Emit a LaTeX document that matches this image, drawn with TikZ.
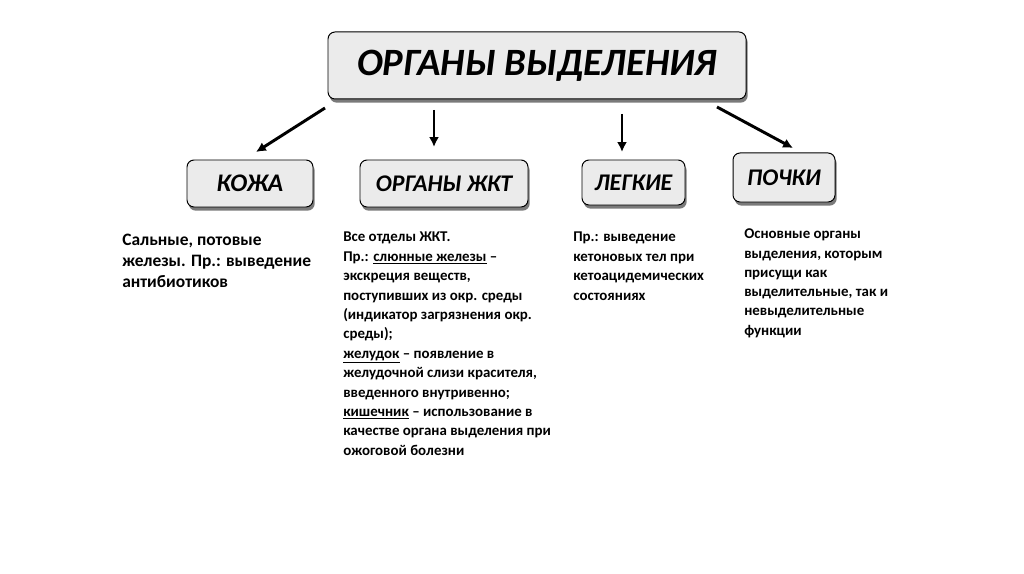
\documentclass[tikz,border=0pt]{standalone}
\usepackage{fontspec}
\setmainfont{Carlito}
\usepackage{tikz}
\usetikzlibrary{arrows.meta,shadows}
\pgfdeclarelayer{edgelayer}
\pgfdeclarelayer{nodelayer}
\pgfsetlayers{edgelayer,nodelayer,main}
\tikzstyle{edge}=[draw=black, line width=2.1pt, -{Latex[length=7pt,width=7pt]}]
\tikzstyle{organbox}=[rounded corners=5pt, fill=gray!16, draw=black, line width=0.7pt, inner sep=0pt, font=\bfseries\itshape, drop shadow={shadow xshift=1.2pt, shadow yshift=-2.6pt, fill=black!80, opacity=0.65}]
\tikzstyle{note}=[anchor=north west, inner sep=0pt, align=left, font=\bfseries]

\begin{document}
\begin{tikzpicture}
				\useasboundingbox (0, 0) rectangle (25.6, 14.35);
				\begin{pgfonlayer}{nodelayer}
					\node [style=organbox, minimum width=10.45cm, minimum height=1.675cm, font=\bfseries\itshape\fontsize{27.5}{32}\selectfont] (organy) at (13.425, 12.7125) {ОРГАНЫ ВЫДЕЛЕНИЯ};
					\node [style=organbox, minimum width=3.15cm, minimum height=1.175cm, font=\bfseries\itshape\fontsize{18}{21}\selectfont] (kozha) at (6.25, 9.7625) {КОЖА};
					\node [style=organbox, minimum width=4.2cm, minimum height=1.175cm, font=\bfseries\itshape\fontsize{17}{20}\selectfont] (zhkt) at (11.1, 9.7625) {ОРГАНЫ ЖКТ};
					\node [style=organbox, minimum width=2.575cm, minimum height=1.125cm, font=\bfseries\itshape\fontsize{17}{20}\selectfont] (legkie) at (15.8375, 9.7875) {ЛЕГКИЕ};
					\node [style=organbox, minimum width=2.55cm, minimum height=1.225cm, font=\bfseries\itshape\fontsize{17}{20}\selectfont] (pochki) at (19.6, 9.9125) {ПОЧКИ};
					\node [style=note, font=\bfseries\fontsize{12.4}{14.9}\selectfont] (kozhatxt) at (3.05, 8.5) {Сальные, потовые\\железы. Пр.: выведение\\антибиотиков};
					\node [style=note, font=\bfseries\fontsize{10.6}{13.8}\selectfont] (zhkttxt) at (8.575, 8.55) {Все отделы ЖКТ.\\Пр.: \underline{слюнные железы} --\\экскреция веществ,\\поступивших из окр. среды\\(индикатор загрязнения окр.\\среды);\\\underline{желудок} -- появление в\\желудочной слизи красителя,\\введенного внутривенно;\\\underline{кишечник} -- использование в\\качестве органа выделения при\\ожоговой болезни};
					\node [style=note, font=\bfseries\fontsize{10.6}{13.8}\selectfont] (legkietxt) at (14.325, 8.55) {Пр.: выведение\\кетоновых тел при\\кетоацидемических\\состояниях};
					\node [style=note, font=\bfseries\fontsize{10.6}{13.7}\selectfont] (pochkitxt) at (18.6, 8.63) {Основные органы\\выделения, которым\\присущи как\\выделительные, так и\\невыделительные\\функции};
				\end{pgfonlayer}
				\begin{pgfonlayer}{edgelayer}
					\coordinate (a1) at (8.125, 11.65);
					\coordinate (b1) at (6.4, 10.55);
					\coordinate (a2) at (10.85, 11.6);
					\coordinate (b2) at (10.85, 10.675);
					\coordinate (a3) at (15.55, 11.5);
					\coordinate (b3) at (15.55, 10.55);
					\coordinate (a4) at (17.925, 11.675);
					\coordinate (b4) at (19.825, 10.65);
					\draw [style=edge] (a1) to (b1);
					\draw [style=edge] (a2) to (b2);
					\draw [style=edge] (a3) to (b3);
					\draw [style=edge] (a4) to (b4);
				\end{pgfonlayer}
			\end{tikzpicture}
\end{document}
